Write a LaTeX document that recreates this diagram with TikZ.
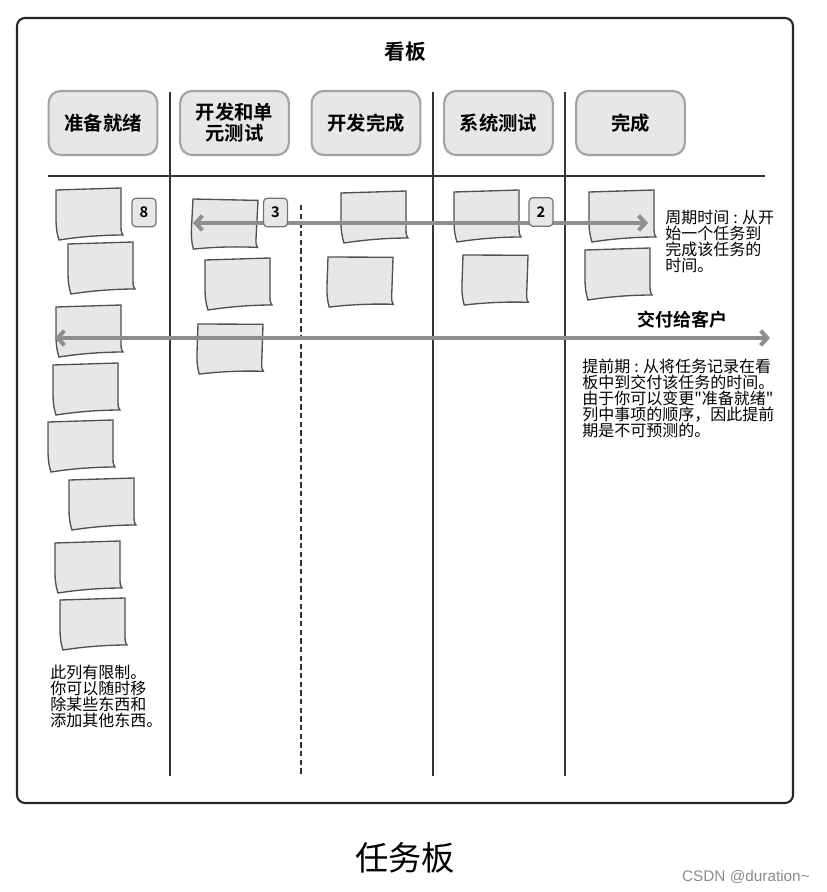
\documentclass[tikz,border=0pt]{standalone}
\usepackage{fontspec}
\setmainfont{Noto Sans CJK SC}[BoldFont={Noto Sans CJK SC Bold}, Ligatures=TeXOff]
\newfontfamily\wmfont{Liberation Sans}
\usetikzlibrary{arrows.meta}

\definecolor{notegray}{HTML}{E6E7E8}
\definecolor{rimgray}{HTML}{A3A3A3}
\definecolor{flowgray}{HTML}{8E8E8E}
\definecolor{inkgray}{HTML}{505050}

\tikzset{
    colhead/.style={draw=rimgray, line width=1.6pt, fill=notegray,
        rounded corners=9pt, minimum width=81.5pt, minimum height=48pt,
        inner sep=0pt, align=center, font=\fontsize{14.5}{15.8}\selectfont\bfseries},
    wiplimit/.style={draw=inkgray!80, line width=0.9pt, fill=notegray,
        rounded corners=3pt, minimum width=18pt, minimum height=21.5pt,
        inner sep=0pt, font=\fontsize{11}{12}\selectfont\bfseries},
    note/.style={draw=inkgray, line width=1pt, fill=notegray},
    divider/.style={draw=black!80, line width=1.1pt},
    flow/.style={draw=flowgray, line width=3pt,
        {Straight Barb[length=5pt,width=11pt]}-{Straight Barb[length=5pt,width=11pt]}},
    remark/.style={anchor=north west, inner sep=0pt, align=left,
        font=\fontsize{12}{12}\selectfont},
}

% full cell colon as in the printed board
\newcommand{\cellcolon}{\kern.26em:\kern.26em}

% sticky note: top left corner x, y, tilt
\newcommand{\stickynote}[3]{%
    \begin{scope}[shift={(#1,#2)}, rotate=#3]
        \filldraw[note] (0,0) -- (65,-2) -- (65,37)
            .. controls (65,42) and (66,44) .. (67,45)
            .. controls (45,45) and (22,47) .. (3,50)
            .. controls (1,44) and (0,38) .. (0,28) -- cycle;
    \end{scope}}

\begin{document}
\begin{tikzpicture}[x=0.75pt, y=-0.75pt]
    \useasboundingbox[fill=white] (0,0) rectangle (826,892);

    % board frame
    \draw[black!85, line width=1.6pt, rounded corners=6pt] (17,18) rectangle (793,803);
    \node[font=\fontsize{15.5}{16}\selectfont\bfseries] (kanban) at (405,52) {看板};

    % column headers
    \node[colhead] (ready)   at (103,123)   {准备就绪};
    \node[colhead] (devunit) at (234.5,123) {开发和单\\元测试};
    \node[colhead] (devdone) at (366,123)   {开发完成};
    \node[colhead] (systest) at (498.5,123) {系统测试};
    \node[colhead] (done)    at (630.5,123) {完成};

    % lanes
    \draw[divider] (48,176) -- (765,176);
    \foreach \x in {170, 433, 565}
        \draw[divider] (\x,92) -- (\x,776);
    \draw[divider, dash pattern=on 4pt off 2.5pt] (301,205) -- (301,776);

    % cards
    \foreach \x/\y/\t in {
        56/190/0,
        68/244/0,
        56/307/0,
        53/365/0,
        48/422/0,
        69/480/0,
        55/543/0,
        60/600/0,
        193/199/-3,
        205/260/0,
        198/324/-2,
        341/193/0,
        328/257/-2,
        454/192/0,
        463/255/-2,
        589/192/0,
        585/250/0
    } {
        \stickynote{\x}{\y}{\t}
    }

    % cycle time and lead time
    \coordinate (cycle-start) at (193,223);
    \coordinate (cycle-end)   at (648,223);
    \coordinate (lead-start)  at (55,338);
    \coordinate (lead-end)    at (770,338);
    \draw[flow] (cycle-start) -- (cycle-end);
    \draw[flow] (lead-start) -- (lead-end);

    % limits
    \node[wiplimit] (limit8) at (144,212.5) {8};
    \node[wiplimit] (limit3) at (275.5,212.5) {3};
    \node[wiplimit] (limit2) at (541,212) {2};

    % remarks
    \node[remark] (cycle-note) at (665,209.5)
        {周期时间\cellcolon 从开\\始一个任务到\\完成该任务的\\时间。};
    \node[font=\fontsize{13.5}{14}\selectfont\bfseries] (deliver) at (682,320) {交付给客户};
    \node[remark] (lead-note) at (582,358.5)
        {提前期\cellcolon 从将任务记录在看\\板中到交付该任务的时间。\\由于你可以变更"准备就绪"\\列中事项的顺序，因此提前\\期是不可预测的。};
    \node[remark] (limit-note) at (50,664.5)
        {此列有限制。\\你可以随时移\\除某些东西和\\添加其他东西。};

    \node[font=\fontsize{25}{27}\selectfont] (caption) at (405,858) {任务板};
    \node[anchor=east, inner sep=0pt, text=black!45, font=\wmfont\fontsize{11.5}{12}\selectfont] (mark) at (810,877) {CSDN @duration\textasciitilde};
\end{tikzpicture}
\end{document}
